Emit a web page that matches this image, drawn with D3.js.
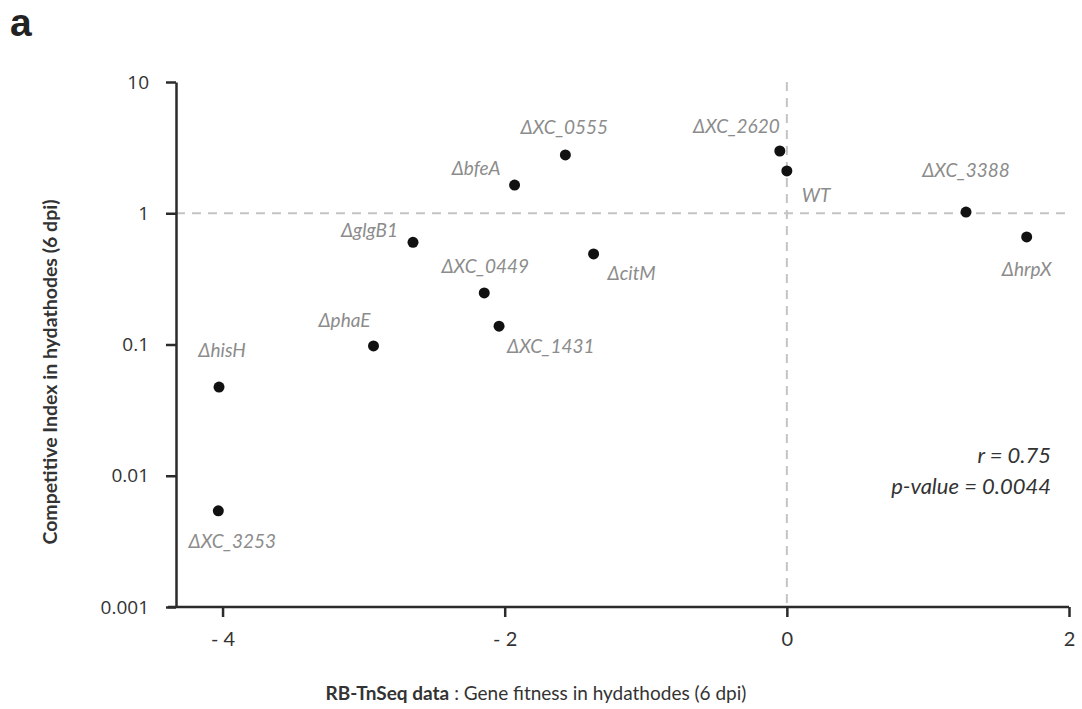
<!DOCTYPE html>
<html><head><meta charset="utf-8">
<script src="https://cdn.jsdelivr.net/npm/d3@7"></script>
<style>
html,body{margin:0;padding:0;background:#fff;}
svg{display:block;}
</style></head>
<body>
<script>
// ---- data ----
const strains = ["ΔXC_0555","ΔbfeA","ΔglgB1","ΔcitM","ΔXC_0449","ΔXC_1431","ΔphaE","ΔhisH","ΔXC_3253","ΔXC_2620","WT","ΔXC_3388","ΔhrpX"];
const fitness = [-1.57,-1.93,-2.65,-1.37,-2.145,-2.04,-2.93,-4.025,-4.03,-0.05,0,1.27,1.70];
const competitiveIndex = [2.78,1.64,0.60,0.49,0.247,0.138,0.0975,0.0474,0.0054,2.98,2.10,1.02,0.66];
const xTicks = [-4,-2,0,2];
const xTickLabels = ["- 4","- 2","0","2"];
const yTicks = [10,1,0.1,0.01,0.001];
const yTickLabels = ["10","1","0.1","0.01","0.001"];
const stats = ["r = 0.75","p-value = 0.0044"];

// ---- label layout (offsets from point, px) ----
const labelLayout = [
  {dx:-1,dy:-21,a:"middle"},{dx:-14,dy:-10,a:"end"},{dx:-15,dy:-5,a:"end"},{dx:14,dy:26,a:"start"},
  {dx:1,dy:-20,a:"middle"},{dx:8,dy:27,a:"start"},{dx:-3,dy:-19,a:"end"},{dx:3,dy:-30,a:"middle"},
  {dx:14,dy:37,a:"middle"},{dx:0,dy:-18,a:"end"},{dx:15,dy:31,a:"start"},{dx:0,dy:-35,a:"middle"},
  {dx:0,dy:39,a:"middle"}
];

const W=1082,H=709;
const svg=d3.select("body").append("svg").attr("width",W).attr("height",H);

const x=d3.scaleLinear().domain([-4.33,2]).range([176,1069]);
const y=d3.scaleLog().domain([0.001,10]).range([607,82]);

// panel letter
svg.append("text").attr("x",10).attr("y",36).attr("font-family","Liberation Sans, Arial, sans-serif")
  .attr("font-weight","bold").attr("font-size",39).attr("fill","#222").text("a");

// reference dashed lines
svg.append("line").attr("x1",x.range()[0]).attr("x2",x.range()[1]).attr("y1",y(1)).attr("y2",y(1))
  .attr("stroke","#c4c4c4").attr("stroke-width",2).attr("stroke-dasharray","9,7");
svg.append("line").attr("x1",x(0)).attr("x2",x(0)).attr("y1",y.range()[1]).attr("y2",y.range()[0])
  .attr("stroke","#c4c4c4").attr("stroke-width",2).attr("stroke-dasharray","9,7");

// y axis
const yAxis=d3.axisLeft(y).tickValues(yTicks).tickFormat((d,i)=>yTickLabels[i]).tickSize(10).tickSizeOuter(0).tickPadding(17);
const gy=svg.append("g").attr("transform",`translate(${x.range()[0]},0)`).call(yAxis);
gy.select(".domain").attr("stroke","#2b2b2b").attr("stroke-width",2.5);
gy.selectAll(".tick line").attr("stroke","#2b2b2b").attr("stroke-width",2.5);
gy.selectAll(".tick text").attr("font-family","Open Sans, sans-serif").attr("font-size",19).attr("fill","#333");

// x axis
const xAxis=d3.axisBottom(x).tickValues(xTicks).tickFormat((d,i)=>xTickLabels[i]).tickSize(10).tickSizeOuter(0).tickPadding(15);
const gx=svg.append("g").attr("transform",`translate(0,${y.range()[0]})`).call(xAxis);
gx.select(".domain").attr("stroke","#2b2b2b").attr("stroke-width",2.5).attr("d",`M${x.range()[0]-8},0H${x.range()[1]}`);
gx.selectAll(".tick line").attr("stroke","#2b2b2b").attr("stroke-width",2.5);
gx.selectAll(".tick text").attr("font-family","Lato, sans-serif").attr("font-size",20).attr("fill","#333");

// axis titles
const xt=svg.append("text").attr("x",536).attr("y",700).attr("text-anchor","middle")
  .attr("font-family","Lato, sans-serif").attr("font-size",19).attr("fill","#333");
xt.append("tspan").attr("font-weight","bold").text("RB-TnSeq data");
xt.append("tspan").text(" : Gene fitness in hydathodes (6 dpi)");

svg.append("text").attr("transform","translate(57,372) rotate(-90)").attr("text-anchor","middle")
  .attr("font-family","Lato, sans-serif").attr("font-weight","bold").attr("font-size",19.5).attr("fill","#333")
  .text("Competitive Index in hydathodes (6 dpi)");

// points
const data=strains.map((s,i)=>({s,fx:fitness[i],ci:competitiveIndex[i],l:labelLayout[i]}));
svg.append("g").selectAll("circle").data(data).join("circle")
  .attr("cx",d=>x(d.fx)).attr("cy",d=>y(d.ci)).attr("r",5.5).attr("fill","#111");

svg.append("g").selectAll("text").data(data).join("text")
  .attr("x",d=>x(d.fx)+d.l.dx).attr("y",d=>y(d.ci)+d.l.dy).attr("text-anchor",d=>d.l.a)
  .attr("font-family","Lato, sans-serif").attr("font-style","italic").attr("font-size",19).attr("fill","#8c8c8c")
  .text(d=>d.s);

// stats annotation
svg.append("g").selectAll("text").data(stats).join("text")
  .attr("x",1051).attr("y",(d,i)=>463+i*31).attr("text-anchor","end")
  .attr("font-family","Lato, sans-serif").attr("font-style","italic").attr("font-size",22).attr("fill","#333")
  .text(d=>d);
</script>
</body></html>
